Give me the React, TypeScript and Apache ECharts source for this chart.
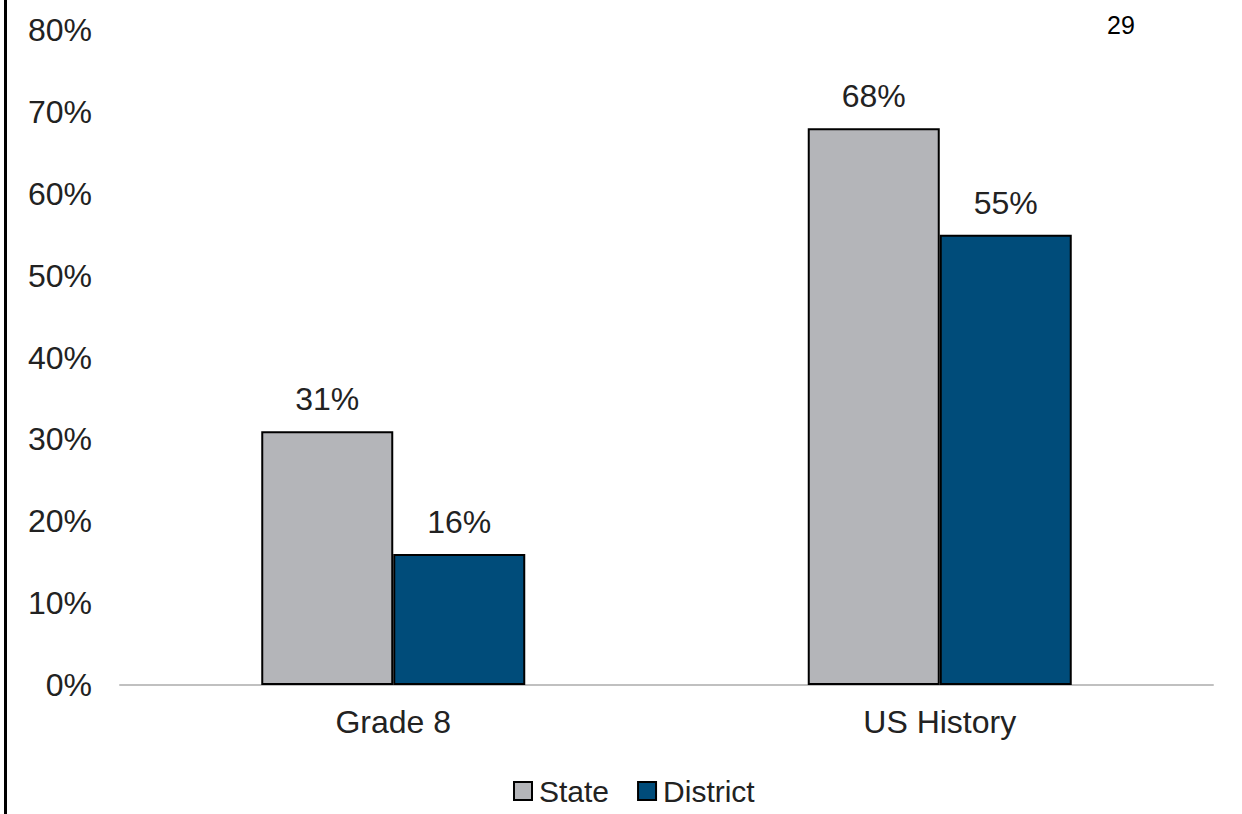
import React, { useEffect, useRef } from "react";
import * as echarts from "echarts";

const categories = ["Grade 8", "US History"];
const stateValues = [31, 68];
const districtValues = [16, 55];
const seriesNames = ["State", "District"];
const pageNumber = "29";

export default function App() {
  const ref = useRef<HTMLDivElement>(null);
  useEffect(() => {
    if (!ref.current) return;
    const chart = echarts.init(ref.current, null, { renderer: "svg" });
    const font = "Liberation Sans, Arial, sans-serif";
    const label = {
      show: true,
      position: "top" as const,
      distance: 16,
      formatter: "{c}%",
      fontSize: 32,
      fontFamily: font,
      color: "#222",
    };
    chart.setOption({
      animation: false,
      grid: { left: 120, right: 29, top: 30, bottom: 129, containLabel: false },
      legend: {
        top: 771,
        left: 508,
        itemWidth: 18,
        itemHeight: 18,
        itemGap: 28,
        icon: "rect",
        textStyle: { fontSize: 30, fontFamily: font, color: "#222", padding: [0, 0, 0, 2] },
        data: seriesNames,
      },
      xAxis: {
        type: "category",
        data: categories,
        axisLine: { lineStyle: { color: "#c0c0c0", width: 2 } },
        axisTick: { show: false },
        axisLabel: { fontSize: 32, fontFamily: font, color: "#222", margin: 21 },
      },
      yAxis: {
        type: "value",
        min: 0,
        max: 80,
        interval: 10,
        axisLabel: { formatter: "{value}%", fontSize: 32, fontFamily: font, color: "#222", margin: 28 },
        axisLine: { show: false },
        axisTick: { show: false },
        splitLine: { show: false },
      },
      series: [
        {
          name: seriesNames[0],
          type: "bar",
          data: stateValues,
          barWidth: 132,
          barGap: "0%",
          itemStyle: { color: "#b4b5b9", borderColor: "#000", borderWidth: 2 },
          label,
        },
        {
          name: seriesNames[1],
          type: "bar",
          data: districtValues,
          barWidth: 132,
          barGap: "0%",
          itemStyle: { color: "#004c7a", borderColor: "#000", borderWidth: 2 },
          label,
        },
      ],
      graphic: [
        { type: "rect", left: 4, top: 0, shape: { width: 3, height: 814 }, style: { fill: "#000" } },
        {
          type: "text",
          left: 1107,
          top: 12,
          style: { text: pageNumber, fontSize: 25, fontFamily: font, fill: "#000" },
        },
      ],
    });
    return () => chart.dispose();
  }, []);
  return (
    <div
      ref={ref}
      style={{ position: "fixed", left: 0, top: 0, width: 1242, height: 814, background: "#fff" }}
    />
  );
}
